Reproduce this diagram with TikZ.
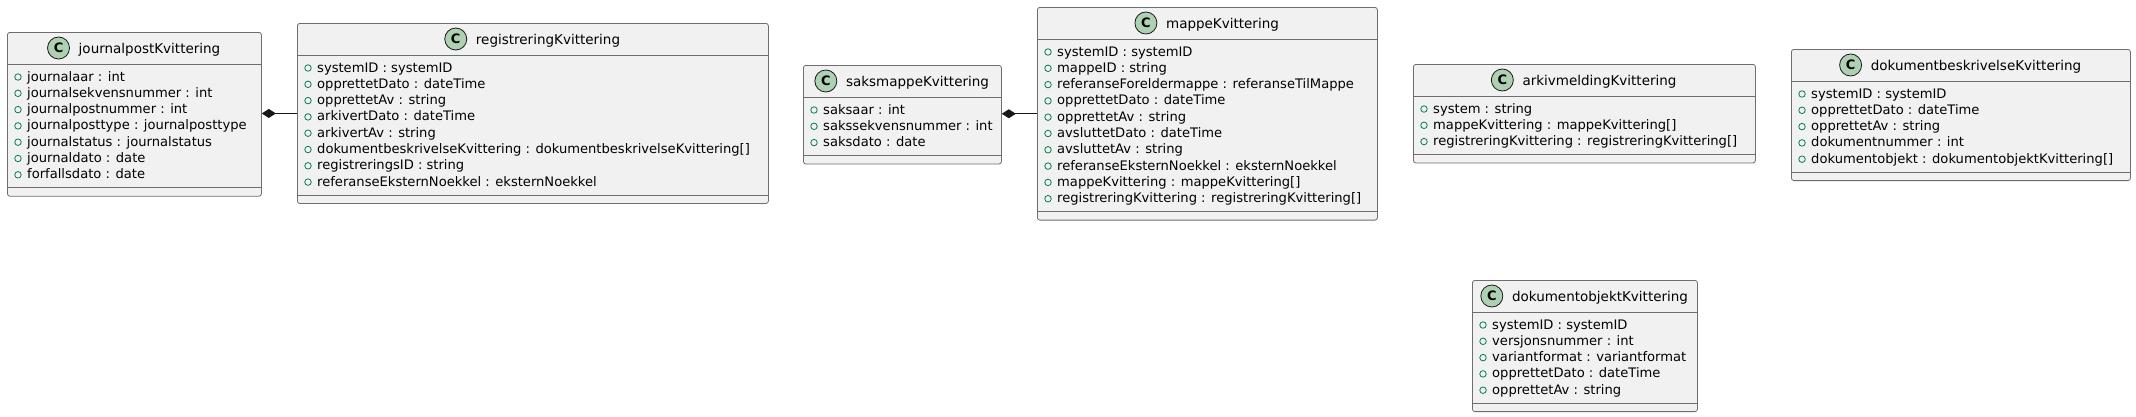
\documentclass[tikz,border=0pt]{standalone}
\usepackage{fontspec}
\setmainfont{DejaVu Sans}
\usetikzlibrary{arrows.meta}
\definecolor{boxfill}{HTML}{F1F1F1}
\definecolor{boxline}{HTML}{6E6E6E}
\definecolor{spotfill}{HTML}{ADD1B2}
\definecolor{pubgreen}{HTML}{038048}
\definecolor{linkline}{HTML}{181818}
\tikzset{
 classbox/.style={draw=boxline, fill=boxfill, line width=0.8pt, rounded corners=2.5pt, inner sep=0pt, rectangle},
 sepline/.style={draw=boxline, line width=0.8pt},
 titletext/.style={inner sep=0pt, anchor=base, font=\fontsize{13.5}{16}\selectfont},
 spotc/.style={circle, draw=linkline, line width=0.8pt, fill=spotfill, minimum size=22pt, inner sep=0pt, font=\fontsize{13}{14}\selectfont\bfseries},
 pubdot/.style={circle, draw=pubgreen, line width=0.8pt, minimum size=6.5pt, inner sep=0pt},
 attrtext/.style={inner sep=0pt, anchor=base west, font=\fontsize{13.1}{16}\selectfont},
 comp/.style={draw=linkline, line width=1pt, -{Diamond[length=14pt,width=9pt,fill=linkline]}},
}
% #1 name, #2 left, #3 right, #4 top, #5 number of rows, #6 title, #7 rows
\newcommand\umlclass[7]{%
 \pgfmathsetmacro\ucbot{#4+32+13+(#5-1)*16.3+13+8}%
 \pgfmathsetmacro\ucw{#3-#2}%
 \pgfmathsetmacro\uch{\ucbot-#4}%
 \node[classbox, anchor=north west, minimum width=\ucw pt, minimum height=\uch pt] (#1) at (#2,#4) {};
 \draw[sepline] ({#2},{#4+32}) -- ({#3},{#4+32});
 \draw[sepline] ({#2},{\ucbot-8}) -- ({#3},{\ucbot-8});
 \node[titletext] (#1-title) at ({(#2+#3)/2},{#4+21}) {\hspace*{31pt}#6};
 \node[spotc] (#1-spot) at ([xshift=11pt,yshift=5pt]#1-title.base west) {C};
 \foreach \t [count=\i] in {#7} {
  \node[pubdot] (#1-d\i) at ({#2+11},{#4+45+(\i-1)*16.3}) {};
  \node[attrtext] (#1-a\i) at ({#2+20},{#4+49+(\i-1)*16.3}) {\t};
 }
}
\begin{document}
\begin{tikzpicture}[x=1pt,y=-1pt]
\useasboundingbox[fill=white] (0,0) rectangle (2136,416);

\umlclass{jp}{7}{261}{32}{7}{journalpostKvittering}{journalaar : int, journalsekvensnummer : int, journalpostnummer : int, journalposttype : journalposttype, journalstatus : journalstatus, journaldato : date, forfallsdato : date}

\umlclass{reg}{297}{768}{23}{8}{registreringKvittering}{systemID : systemID, opprettetDato : dateTime, opprettetAv : string, arkivertDato : dateTime, arkivertAv : string, dokumentbeskrivelseKvittering : dokumentbeskrivelseKvittering[], registreringsID : string, referanseEksternNoekkel : eksternNoekkel}

\umlclass{saks}{803}{1001}{65}{3}{saksmappeKvittering}{saksaar : int, sakssekvensnummer : int, saksdato : date}

\umlclass{mappe}{1037}{1377}{7}{10}{mappeKvittering}{systemID : systemID, mappeID : string, referanseForeldermappe : referanseTilMappe, opprettetDato : dateTime, opprettetAv : string, avsluttetDato : dateTime, avsluttetAv : string, referanseEksternNoekkel : eksternNoekkel, mappeKvittering : mappeKvittering[], registreringKvittering : registreringKvittering[]}

\umlclass{arkiv}{1413}{1755}{64}{3}{arkivmeldingKvittering}{system : string, mappeKvittering : mappeKvittering[], registreringKvittering : registreringKvittering[]}

\umlclass{dokb}{1791}{2130}{49}{5}{dokumentbeskrivelseKvittering}{systemID : systemID, opprettetDato : dateTime, opprettetAv : string, dokumentnummer : int, dokumentobjekt : dokumentobjektKvittering[]}

\umlclass{doko}{1472}{1697}{280}{5}{dokumentobjektKvittering}{systemID : systemID, versjonsnummer : int, variantformat : variantformat, opprettetDato : dateTime, opprettetAv : string}

\draw[comp] (reg.west) -- (jp.east |- reg.west);
\draw[comp] (mappe.west) -- (saks.east |- mappe.west);
\end{tikzpicture}
\end{document}
